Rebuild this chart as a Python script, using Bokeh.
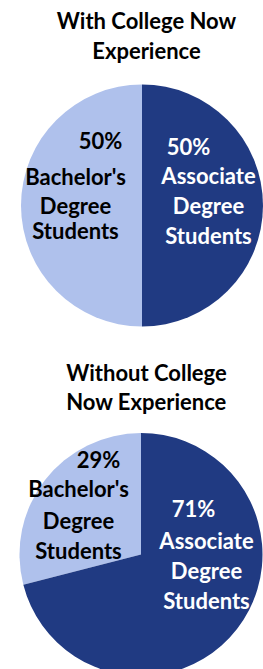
import math
from bokeh.plotting import figure
from bokeh.models import Range1d, ColumnDataSource
from bokeh.core.properties import value
from bokeh.embed import file_html
from bokeh.resources import INLINE

# ---- data ----
titles = [["With College Now", "Experience"], ["Without College", "Now Experience"]]
categories = ["Bachelor's Degree Students", "Associate Degree Students"]
with_cn = [50, 50]
without_cn = [29, 71]
colors = ["#AFC1EC", "#203A82"]
label_colors = ["#000000", "#FFFFFF"]

W, H = 263, 669
FONT = "Lato"
FS = "22px"
DY = -7  # text baseline correction

p = figure(width=W, height=H, output_backend="svg", toolbar_location=None,
           x_range=Range1d(0, W), y_range=Range1d(0, H), min_border=0)
p.axis.visible = False
p.grid.visible = False
p.outline_line_color = None
p.background_fill_color = "white"

def Y(py):
    return H - py

# layout of each pie (picture pixel coordinates)
pies = [
    dict(vals=with_cn, cx=141.5, cy=205, r=121, title_base=[27, 57],
         lab=[dict(x=75, base=[147, 183, 212, 237], px=100),
              dict(x=208, base=[153, 182, 212, 242], px=188)]),
    dict(vals=without_cn, cx=140.5, cy=554, r=121.5, title_base=[379, 408],
         lab=[dict(x=78, base=[466, 495, 527, 557], px=98),
              dict(x=206, base=[515, 547, 577, 607], px=193)]),
]

def txt(x, b, s, color):
    p.text(x=[x], y=[Y(b + DY)], text=[s], text_font=value(FONT), text_font_style="bold",
           text_font_size=FS, text_align="center", text_baseline="alphabetic",
           text_color=color)

for pie, ttl in zip(pies, titles):
    vals = pie["vals"]
    total = sum(vals)
    starts, ends = [], []
    a = math.pi / 2
    for v in vals:
        starts.append(a)
        a += 2 * math.pi * v / total
        ends.append(a)
    src = ColumnDataSource(dict(x=[pie["cx"]] * len(vals), y=[Y(pie["cy"])] * len(vals),
                                start=starts, end=ends, color=colors))
    p.wedge(x="x", y="y", radius=pie["r"], start_angle="start", end_angle="end",
            direction="anticlock", fill_color="color", line_color=None, source=src)
    for line, b in zip(ttl, pie["title_base"]):
        txt(146, b, line, "#000000")
    for i, (v, cat) in enumerate(zip(vals, categories)):
        L = pie["lab"][i]
        words = cat.split(" ")
        lines = [f"{v}%", words[0], words[1], words[2]]
        for j, (line, b) in enumerate(zip(lines, L["base"])):
            xx = L["px"] if j == 0 else L["x"]
            txt(xx, b, line, label_colors[i])

open("out.html", "w").write(file_html(p, INLINE))
